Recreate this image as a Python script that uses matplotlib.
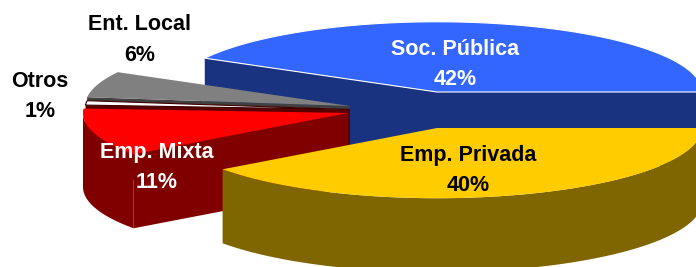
import numpy as np
import matplotlib.pyplot as plt
from matplotlib.patches import Polygon

# Data
labels = ['Soc. Pública', 'Ent. Local', 'Otros', 'Emp. Mixta', 'Emp. Privada']
shares = [42, 6, 1, 11, 40]

# Style
top_colors = ['#3366FF', '#808080', '#FFFFFF', '#FF0000', '#FFCC00']
side_colors = ['#1A3380', '#404040', '#5A0000', '#800000', '#806600']
edge_colors = ['white', 'none', '#400000', 'none', 'none']
text_colors = ['white', 'black', 'black', 'white', 'black']

# Layout (pixel units)
R = 265
S = 0.265
D = 74
centers = [(437, 92), (350, 106), (350, 109.5), (348, 113), (437, 128)]
label_pos = [(455, 64.5), (140, 40), (40, 96.5), (157, 167.5), (468, 170.5)]

fig = plt.figure(figsize=(6.96, 2.67), dpi=100)
ax = fig.add_axes([0, 0, 1, 1])
ax.set_xlim(0, 696)
ax.set_ylim(267, 0)
ax.axis('off')


def arc(c, a1, a2, dz=0, n=90):
    t = np.radians(np.linspace(a1, a2, n))
    return np.column_stack([c[0] + R * np.cos(t), c[1] - R * S * np.sin(t) + dz])


def radial(c, a):
    t = np.radians(a)
    p = (c[0] + R * np.cos(t), c[1] - R * S * np.sin(t))
    return [c, p, (p[0], p[1] + D), (c[0], c[1] + D)]


angles = np.concatenate([[0], np.cumsum(shares) * 3.6])
z = 1
for i in range(len(shares)):
    a1, a2 = angles[i], angles[i + 1]
    c = centers[i]
    # cut faces turned to the viewer
    if np.sin(np.radians(a1 - 90)) < 0:
        ax.add_patch(Polygon(radial(c, a1), closed=True, fc=side_colors[i], ec='none', zorder=z))
    if np.sin(np.radians(a2 + 90)) < 0:
        ax.add_patch(Polygon(radial(c, a2), closed=True, fc=side_colors[i], ec='none', zorder=z))
    # outer wall, front half only
    b1, b2 = max(a1, 180), min(a2, 360)
    if b2 > b1:
        wall = np.vstack([arc(c, b1, b2), arc(c, b2, b1, dz=D)])
        ax.add_patch(Polygon(wall, closed=True, fc=side_colors[i], ec='none', zorder=z))
    # top face
    top = np.vstack([[c], arc(c, a1, a2)])
    ax.add_patch(Polygon(top, closed=True, fc=top_colors[i], ec=edge_colors[i], lw=0.8, zorder=z + 0.5))
    z += 1

for i in range(len(shares)):
    ax.text(label_pos[i][0], label_pos[i][1], f'{labels[i]}\n{shares[i]}%',
            ha='center', va='center', color=text_colors[i], fontsize=15.5,
            fontweight='bold', family='Liberation Sans', linespacing=1.58, zorder=20)

fig.savefig('out.png', dpi=100, facecolor='white')
